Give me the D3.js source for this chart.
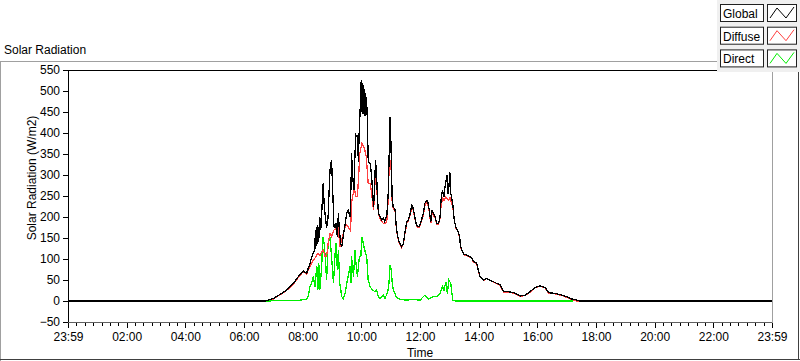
<!DOCTYPE html>
<html>
<head>
<meta charset="utf-8">
<script src="https://cdn.jsdelivr.net/npm/d3@7"></script>
<style>
  body { margin: 0; background: #fff; }
  svg { display: block; }
  text { font-family: "Liberation Sans", Arial, sans-serif; font-size: 12px; fill: #000; }
</style>
</head>
<body>
<div id="chart"></div>
<script>
// series are [minute of day, W/m2]; the axis runs 23:59 (minute -1) to 23:59
var globalSeries = [
  [-1,0],[402,0],[419,6],[433,16],[446,26],[460,42],[470,58],[480,72],[487,66],[494,90],[499,110],[503,120],
  [504,150],[505,125],[506,170],[507,130],[508,175],[509,135],[510,180],[511,140],[512,175],[513,150],[514,200],[516,170],
  [518,209],[521,280],[523,230],[525,205],[528,175],[531,200],[533,260],[535,312],[538,336],[540,280],[543,177],[545,175],
  [547,185],[550,153],[552,209],[554,170],[557,137],[559,129],[562,153],[566,185],[569,209],[572,217],[576,201],[578,280],
  [579,352],[581,300],[584,264],[586,352],[588,395],[590,392],[591,395],[593,330],[595,420],[596,439],[597,470],[598,510],
  [599,526],[600,450],[601,520],[602,445],[603,515],[604,445],[605,505],[606,440],[607,495],[608,440],[609,485],[610,470],
  [611,440],[613,340],[615,328],[617,328],[620,300],[622,260],[624,225],[626,270],[628,336],[630,304],[632,248],[634,209],
  [637,201],[641,193],[644,197],[647,189],[649,197],[651,201],[654,256],[656,352],[657,420],[658,439],[659,400],[660,352],
  [662,248],[664,225],[668,217],[671,170],[675,145],[678,137],[681,129],[685,137],[688,161],[692,189],[695,193],[699,209],
  [702,228],[704,225],[707,209],[711,185],[714,177],[718,177],[722,193],[726,209],[729,233],[733,240],[735,235],[738,217],
  [741,189],[744,217],[746,209],[750,201],[753,185],[757,185],[760,201],[762,240],[765,264],[768,248],[770,270],[772,285],
  [774,300],[776,255],[777,280],[778,270],[780,306],[782,256],[786,232],[789,193],[793,173],[796,169],[800,153],[802,129],
  [806,117],[810,110],[814,110],[820,106],[825,102],[828,94],[835,90],[838,74],[842,58],[849,50],[855,54],[862,50],
  [869,46],[876,42],[883,38],[890,22],[900,22],[910,20],[924,12],[934,14],[944,22],[954,32],[960,35],[965,36],
  [975,32],[982,20],[995,18],[1009,14],[1019,10],[1029,5],[1040,2],[1046,0],[1439,0]
];

var diffuseSeries = [
  [-1,0],[400,0],[419,5],[433,15],[446,25],[460,40],[470,56],[480,70],[487,64],[494,82],[499,95],[503,100],
  [506,106],[510,113],[514,108],[518,117],[521,121],[525,106],[528,106],[531,137],[535,161],[538,153],[540,161],[543,169],
  [547,173],[550,169],[552,177],[555,129],[559,145],[562,161],[566,177],[569,181],[572,177],[576,169],[578,193],[579,233],
  [581,248],[584,264],[586,260],[588,248],[591,248],[593,288],[596,352],[600,375],[603,370],[606,360],[609,344],[611,312],
  [613,280],[617,280],[620,256],[624,217],[626,256],[628,312],[630,296],[632,233],[634,209],[637,197],[641,189],[644,185],
  [647,185],[651,189],[654,240],[656,328],[658,335],[660,312],[662,240],[664,221],[668,215],[671,168],[675,143],[678,135],
  [681,127],[685,135],[688,159],[692,185],[695,190],[699,205],[702,222],[704,222],[707,205],[711,183],[714,175],[718,175],
  [722,190],[726,205],[729,228],[733,235],[735,230],[738,213],[741,185],[744,210],[746,205],[750,198],[753,183],[757,183],
  [760,198],[762,225],[765,245],[768,240],[772,248],[775,244],[778,240],[780,248],[782,237],[786,225],[789,193],[793,172],
  [796,168],[800,152],[802,128],[806,116],[810,109],[814,109],[820,105],[825,101],[828,93],[835,89],[838,73],[842,57],
  [849,49],[855,53],[862,49],[869,45],[876,41],[883,37],[890,21],[900,21],[910,19],[924,11],[934,13],[944,21],
  [954,31],[960,34],[965,35],[975,31],[982,19],[995,17],[1009,13],[1019,9],[1029,4],[1040,0],[1046,-2],[1439,-2]
];

var directSeries = [
  [401,0],[474,2],[488,5],[490,10],[494,34],[497,42],[501,58],[504,34],[508,82],[510,26],[512,90],[514,26],
  [518,82],[520,153],[523,137],[525,106],[528,50],[531,137],[535,153],[538,106],[542,42],[545,106],[547,137],[550,74],
  [552,121],[555,42],[559,10],[562,6],[566,18],[569,42],[572,58],[576,82],[578,42],[579,106],[583,58],[586,121],
  [588,90],[591,58],[595,106],[598,106],[600,153],[603,137],[606,121],[610,106],[613,50],[617,34],[622,26],[627,22],
  [630,26],[634,10],[637,6],[644,14],[647,6],[652,18],[655,34],[658,86],[660,74],[663,34],[666,22],[671,8],
  [678,4],[692,2],[705,4],[719,2],[729,14],[736,4],[746,10],[753,10],[760,18],[765,34],[768,26],[772,46],
  [775,18],[778,50],[782,42],[786,2],[791,0],[1032,0]
];

var seriesNames = ["Global", "Diffuse", "Direct"];
var seriesColors = ["#000000", "#ff4040", "#00ee00"];
var yTicks = [-50, 0, 50, 100, 150, 200, 250, 300, 350, 400, 450, 500, 550];
var xTickLabels = ["23:59", "02:00", "04:00", "06:00", "08:00", "10:00", "12:00",
                   "14:00", "16:00", "18:00", "20:00", "22:00", "23:59"];

var width = 800, height = 361;
var margin = {top: 70, right: 28, bottom: 39, left: 68};
var plotW = width - margin.left - margin.right,
    plotH = height - margin.top - margin.bottom;

var svg = d3.select("#chart").append("svg")
    .attr("width", width)
    .attr("height", height);

// outer frame of the chart control
svg.append("line").attr("x1", 0).attr("x2", 717).attr("y1", 61.5).attr("y2", 61.5).attr("stroke", "#a0a0a0");
svg.append("line").attr("x1", 0.5).attr("x2", 0.5).attr("y1", 61).attr("y2", 361).attr("stroke", "#a0a0a0");
svg.append("line").attr("x1", 0).attr("x2", 800).attr("y1", 359.5).attr("y2", 359.5).attr("stroke", "#404040");
svg.append("line").attr("x1", 798.5).attr("x2", 798.5).attr("y1", 70).attr("y2", 360).attr("stroke", "#404040");

svg.append("text")
    .attr("x", 4).attr("y", 54)
    .text("Solar Radiation");

var g = svg.append("g")
    .attr("transform", "translate(" + margin.left + "," + margin.top + ")");

var x = d3.scaleLinear().domain([-1, 1439]).range([0, plotW]);
var y = d3.scaleLinear().domain([-50, 550]).range([plotH, 0]);

g.append("clipPath").attr("id", "clip")
  .append("rect").attr("width", plotW).attr("height", plotH);

// axes
var majorTicks = xTickLabels.map(function(d, i) { return -1 + i * 120; });
var minorTicks = [];
for (var i = 0; i < 12; i++) {
    for (var k = 1; k < 7; k++) minorTicks.push(-1 + i * 120 + k * 120 / 7);
}

var xMinor = d3.axisBottom(x).tickValues(minorTicks).tickSize(4).tickFormat("");
var xAxis = d3.axisBottom(x).tickValues(majorTicks).tickSize(6).tickPadding(4)
    .tickFormat(function(d, i) { return xTickLabels[i]; });
var yAxis = d3.axisLeft(y).tickValues(yTicks).tickSize(5).tickPadding(3);

g.append("g").attr("class", "x-minor")
    .attr("transform", "translate(0," + plotH + ")")
    .call(xMinor);
g.append("g").attr("class", "x-axis")
    .attr("transform", "translate(0," + plotH + ")")
    .call(xAxis);
g.append("g").attr("class", "y-axis")
    .call(yAxis);

g.selectAll(".domain").remove();
g.selectAll(".tick line").attr("stroke", "#000").attr("shape-rendering", "crispEdges");
g.selectAll(".tick text").style("font-size", "12px").attr("fill", "#000");

// plot area border
g.append("rect").attr("width", plotW).attr("height", plotH).attr("fill", "#fff").lower();
g.append("line").attr("x1", 0).attr("x2", plotW).attr("y1", 0.5).attr("y2", 0.5).attr("stroke", "#000");
g.append("line").attr("x1", 0.5).attr("x2", 0.5).attr("y1", 0).attr("y2", plotH).attr("stroke", "#000");
g.append("line").attr("x1", 0).attr("x2", plotW).attr("y1", plotH + 0.5).attr("y2", plotH + 0.5).attr("stroke", "#606060");
g.append("line").attr("x1", plotW + 0.5).attr("x2", plotW + 0.5).attr("y1", -9).attr("y2", plotH + 1).attr("stroke", "#a0a0a0");

// lines, drawn aliased like the original instrument chart
var line = d3.line()
    .x(function(d) { return x(d[0]); })
    .y(function(d) { return y(d[1]); });

var lines = g.append("g").attr("clip-path", "url(#clip)");
[[directSeries, seriesColors[2]], [diffuseSeries, seriesColors[1]], [globalSeries, seriesColors[0]]]
  .forEach(function(s) {
    lines.append("path")
        .datum(s[0])
        .attr("fill", "none")
        .attr("stroke", s[1])
        .attr("stroke-width", 1.3)
        .attr("shape-rendering", "crispEdges")
        .attr("d", line);
  });

// axis titles
svg.append("text")
    .attr("transform", "translate(36," + 178 + ") rotate(-90)")
    .attr("text-anchor", "middle")
    .text("Solar Radiation (W/m2)");

svg.append("text")
    .attr("x", margin.left + plotW / 2).attr("y", 357)
    .attr("text-anchor", "middle")
    .text("Time");

// legend
var legend = svg.append("g").attr("transform", "translate(717,0)");
legend.append("rect").attr("x", 0).attr("y", 0).attr("width", 83).attr("height", 72).attr("fill", "#f0f0f0");

var zig = [[2, 14], [9, 4], [18, 14], [26, 3]];
seriesNames.forEach(function(name, i) {
    var row = legend.append("g").attr("transform", "translate(0," + (4 + i * 22.7) + ")");
    row.append("rect").attr("x", 3.5).attr("y", 0.5).attr("width", 43).attr("height", 17)
        .attr("fill", "#fff").attr("stroke", "#202020");
    row.append("text").attr("x", 6).attr("y", 14).text(name);
    row.append("rect").attr("x", 50.5).attr("y", 0.5).attr("width", 29).attr("height", 17)
        .attr("fill", "#fff").attr("stroke", "#202020");
    row.append("path")
        .attr("d", d3.line()(zig.map(function(p) { return [51 + p[0], p[1]]; })))
        .attr("fill", "none").attr("stroke", seriesColors[i]).attr("stroke-width", 1);
});
</script>
</body>
</html>
